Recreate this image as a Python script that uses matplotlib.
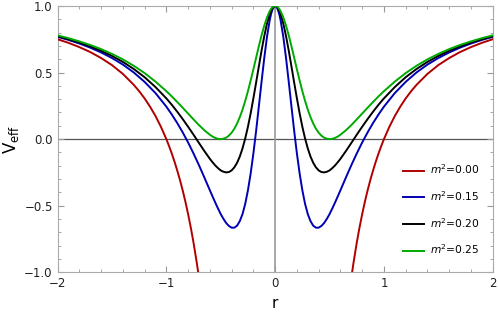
import numpy as np
import matplotlib
matplotlib.use('Agg')
import matplotlib.pyplot as plt
from matplotlib.ticker import MultipleLocator

# r >= 0 half of the (symmetric) curves
r_half = [0, 0.0125, 0.025, 0.0375, 0.05, 0.075, 0.1, 0.125, 0.15, 0.175, 0.2, 0.225,
          0.25, 0.275, 0.3, 0.325, 0.35, 0.375, 0.4, 0.425, 0.45, 0.475, 0.5, 0.525,
          0.55, 0.575, 0.6, 0.65, 0.7, 0.75, 0.8, 0.85, 0.9, 0.95, 1.0, 1.1,
          1.2, 1.3, 1.4, 1.5, 1.6, 1.7, 1.8, 1.9, 2.0]
v_025 = [1.0, 0.998, 0.990, 0.978, 0.961, 0.914, 0.852, 0.779, 0.697, 0.611, 0.524, 0.440,
         0.360, 0.287, 0.221, 0.165, 0.117, 0.078, 0.048, 0.026, 0.011, 0.003, 0.0, 0.002,
         0.009, 0.019, 0.033, 0.066, 0.105, 0.148, 0.192, 0.236, 0.279, 0.321, 0.360, 0.432,
         0.496, 0.551, 0.599, 0.640, 0.676, 0.707, 0.734, 0.758, 0.779]
v_020 = [1.0, 0.996, 0.984, 0.965, 0.939, 0.867, 0.773, 0.664, 0.545, 0.424, 0.306, 0.194,
         0.093, 0.005, -0.070, -0.131, -0.178, -0.212, -0.235, -0.247, -0.250, -0.245, -0.235, -0.218,
         -0.198, -0.174, -0.148, -0.090, -0.029, 0.033, 0.093, 0.151, 0.206, 0.258, 0.306, 0.391,
         0.465, 0.527, 0.580, 0.625, 0.664, 0.697, 0.726, 0.751, 0.773]
v_015 = [1.0, 0.993, 0.972, 0.939, 0.893, 0.768, 0.609, 0.430, 0.244, 0.061, -0.108, -0.258,
         -0.384, -0.486, -0.563, -0.616, -0.650, -0.665, -0.665, -0.652, -0.630, -0.599, -0.563, -0.521,
         -0.477, -0.431, -0.384, -0.289, -0.196, -0.108, -0.025, 0.051, 0.121, 0.185, 0.244, 0.346,
         0.430, 0.501, 0.560, 0.609, 0.651, 0.687, 0.718, 0.745, 0.768]
r_red = [0.68, 0.7, 0.72, 0.75, 0.775, 0.8, 0.825, 0.85, 0.875, 0.9, 0.925, 0.95, 0.975, 1.0,
         1.05, 1.1, 1.15, 1.2, 1.25, 1.3, 1.4, 1.5, 1.6, 1.7, 1.8, 1.9, 2.0]
v_000 = [-1.163, -1.041, -0.929, -0.778, -0.665, -0.563, -0.469, -0.384, -0.306, -0.235, -0.169,
         -0.108, -0.052, 0.0, 0.093, 0.174, 0.244, 0.306, 0.360, 0.408, 0.490, 0.556, 0.609,
         0.654, 0.691, 0.723, 0.750]

labels = ['$m^2$=0.00', '$m^2$=0.15', '$m^2$=0.20', '$m^2$=0.25']
colors = ['#b00000', '#0000b4', 'black', '#00aa00']


def mirror(r, v):
    r = np.asarray(r)
    v = np.asarray(v)
    return np.concatenate([-r[::-1], r]), np.concatenate([v[::-1], v])


series = [mirror(r_red, v_000), mirror(r_half, v_015), mirror(r_half, v_020), mirror(r_half, v_025)]

fig = plt.figure(figsize=(4.98, 3.19), dpi=100)
ax = fig.add_axes([0.1155, 0.1464, 0.874, 0.835])

ax.axhline(0, color='#555555', lw=0.9, zorder=1)
ax.axvline(0, color='#999999', lw=1.2, zorder=1)

for (x, y), lab, c in zip(series, labels, colors):
    if lab.endswith('0.00'):
        # red curve has a gap through the middle
        n = len(x) // 2
        ax.plot(x[:n], y[:n], color=c, lw=1.4, zorder=3)
        ax.plot(x[n:], y[n:], color=c, lw=1.4, zorder=3, label=lab)
    else:
        ax.plot(x, y, color=c, lw=1.4, zorder=3, label=lab)

ax.set_xlim(-2, 2)
ax.set_ylim(-1, 1)
ax.xaxis.set_major_locator(MultipleLocator(1))
ax.xaxis.set_minor_locator(MultipleLocator(0.2))
ax.yaxis.set_major_locator(MultipleLocator(0.5))
ax.yaxis.set_minor_locator(MultipleLocator(0.1))
ax.tick_params(which='both', direction='in', top=True, right=True, color='#999999',
               labelsize=8.5, labelcolor='#222222')
ax.tick_params(which='major', length=4.5)
ax.tick_params(which='minor', length=2.5)
for s in ax.spines.values():
    s.set_color('#aaaaaa')

ax.set_xlabel('r', fontsize=11)
ax.set_ylabel(r'$\mathsf{V}_{\mathsf{eff}}$', fontsize=12, labelpad=2)

ax.legend(loc='upper left', bbox_to_anchor=(0.794, 0.412), frameon=False, fontsize=7.7,
          handlelength=1.95, handletextpad=0.6, labelspacing=1.2,
          borderaxespad=0, borderpad=0)

fig.savefig('out.png', dpi=100)
